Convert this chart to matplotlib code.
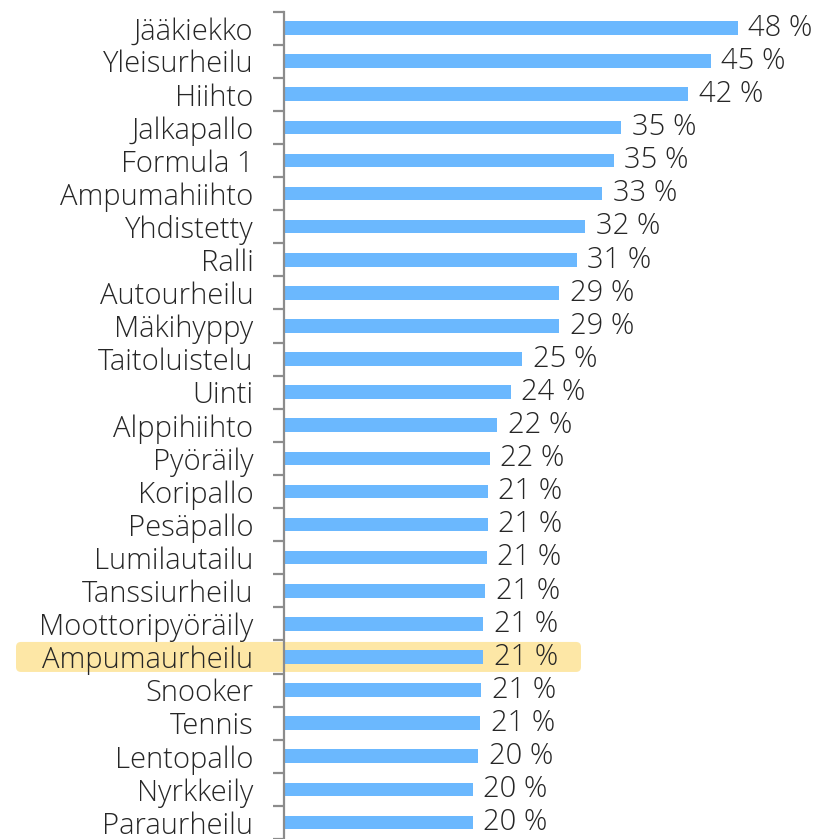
import matplotlib
matplotlib.use("Agg")
import matplotlib.pyplot as plt
from matplotlib.patches import FancyBboxPatch
import numpy as np

plt.rcParams["font.family"] = ["Open Sans", "DejaVu Sans"]

sports = ["Jääkiekko", "Yleisurheilu", "Hiihto", "Jalkapallo", "Formula 1",
          "Ampumahiihto", "Yhdistetty", "Ralli", "Autourheilu", "Mäkihyppy",
          "Taitoluistelu", "Uinti", "Alppihiihto", "Pyöräily", "Koripallo",
          "Pesäpallo", "Lumilautailu", "Tanssiurheilu", "Moottoripyöräily",
          "Ampumaurheilu", "Snooker", "Tennis", "Lentopallo", "Nyrkkeily",
          "Paraurheilu"]
share = [47.6, 44.8, 42.4, 35.4, 34.6,
         33.4, 31.6, 30.7, 28.9, 28.9,
         25.0, 23.8, 22.4, 21.6, 21.4,
         21.4, 21.3, 21.1, 20.9,
         20.9, 20.7, 20.6, 20.4, 19.8,
         19.8]
highlight = "Ampumaurheilu"

bar_color = "#6bb8fe"
text_color = "#262626"
axis_color = "#8c8c8c"

fig = plt.figure(figsize=(8.30, 8.39), dpi=100)
ax = fig.add_axes([284 / 830, 0.0, 1 - 284 / 830, 1 - 11.5 / 839])
ax.patch.set_visible(False)

y = np.arange(len(sports))
ax.barh(y, share, height=0.41, color=bar_color, zorder=2)

ax.set_xlim(0, 546 / 9.53)
ax.set_ylim(24.35, -0.5)

for yi, v in zip(y, share):
    ax.text(v + 1.1, yi, f"{v:.0f} %", va="center", ha="left",
            fontsize=21, color=text_color, fontweight="light")

ax.set_yticks(y)
ax.set_yticklabels(sports, fontsize=21, color=text_color, fontweight="light")
ax.tick_params(axis="y", which="major", length=0, pad=22)
ax.set_yticks(np.arange(-0.5, len(sports), 1.0), minor=True)
ax.tick_params(axis="y", which="minor", length=8, width=1.6, color=axis_color)
ax.set_xticks([])

for s in ["top", "right", "bottom"]:
    ax.spines[s].set_visible(False)
ax.spines["left"].set_color(axis_color)
ax.spines["left"].set_linewidth(1.6)

# highlighted row background
i = sports.index(highlight)
_, yc = ax.transData.transform((0, i))
box = FancyBboxPatch((16, yc - 15), 565, 30,
                     boxstyle="round,pad=0,rounding_size=5",
                     transform=None, facecolor="#fde7a6", edgecolor="none",
                     zorder=0, clip_on=False)
ax.add_artist(box)

fig.savefig("out.png", dpi=100)
